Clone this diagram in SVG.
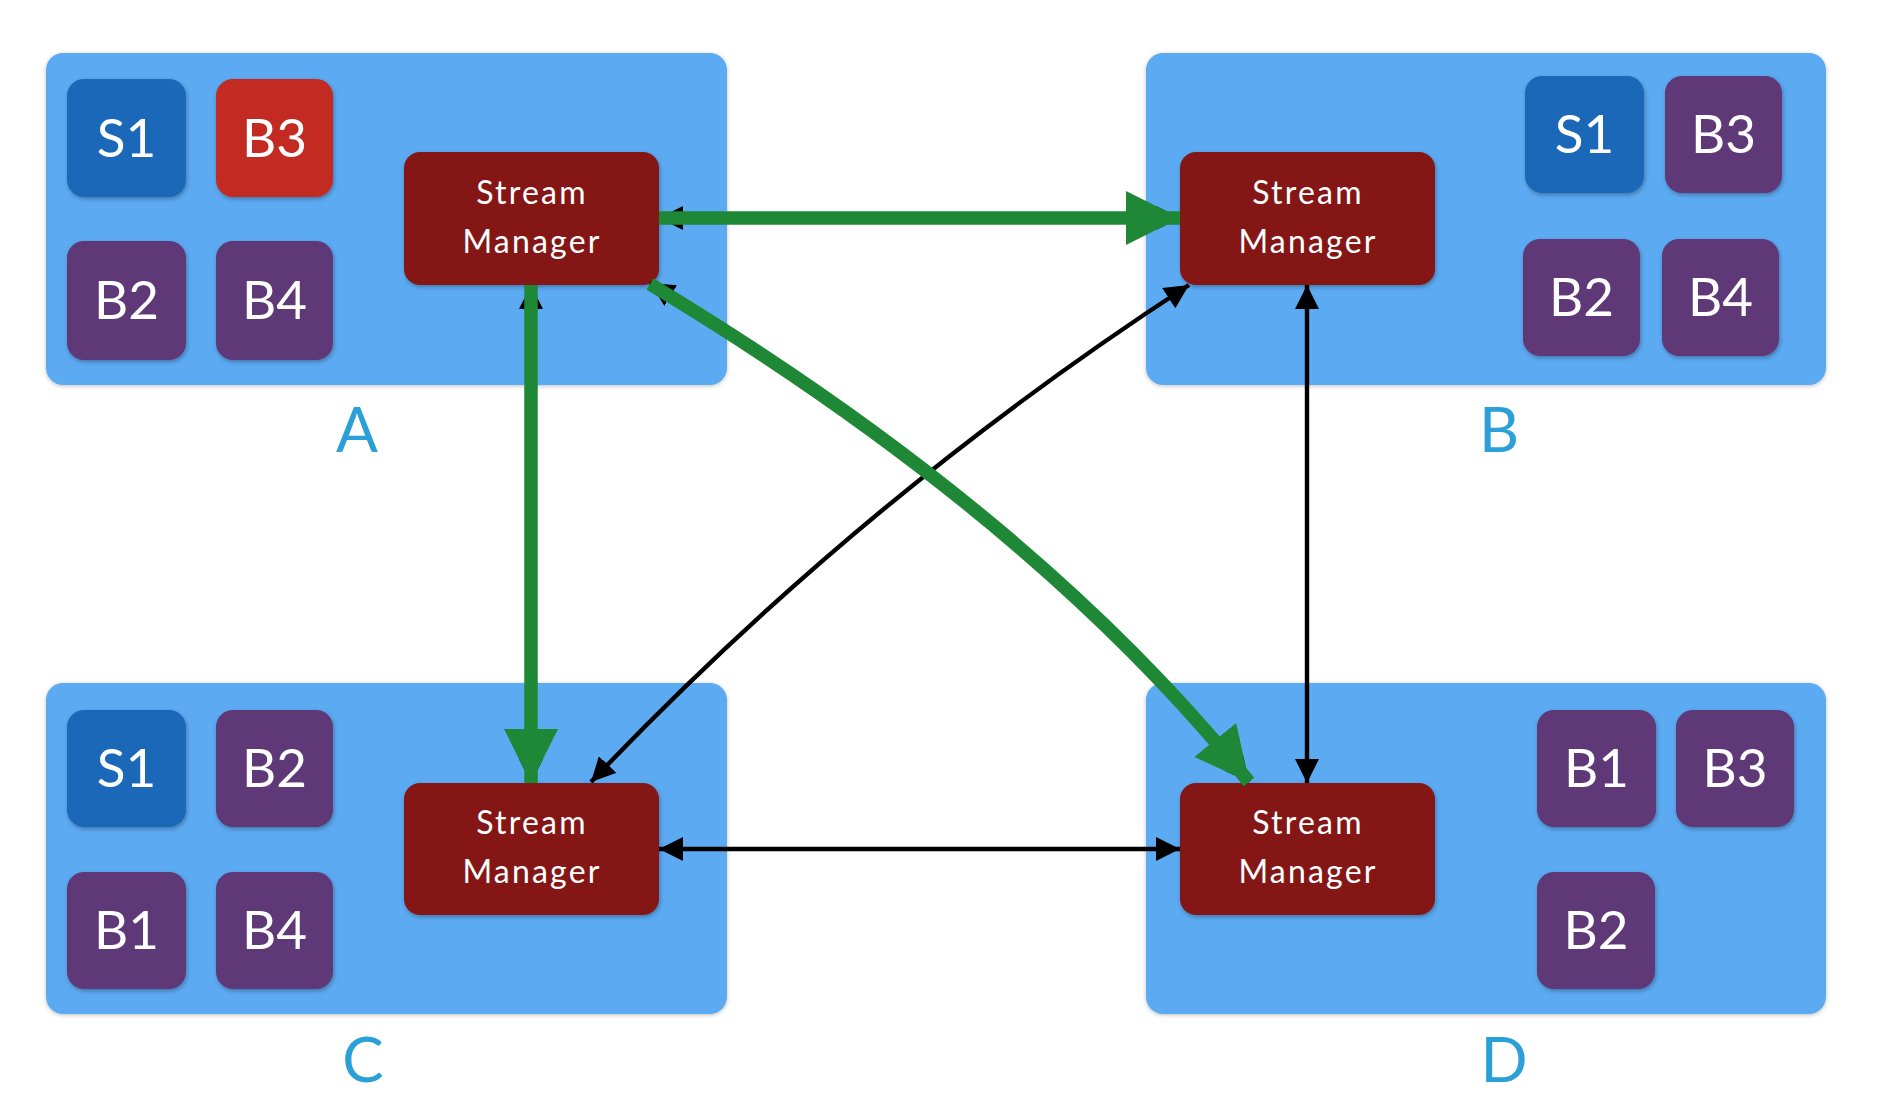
<svg xmlns="http://www.w3.org/2000/svg" width="1880" height="1098" viewBox="0 0 1880 1098">
<defs>
<filter id="sh" x="-10%" y="-10%" width="130%" height="130%"><feDropShadow dx="1" dy="2" stdDeviation="2" flood-color="#000" flood-opacity="0.3"/></filter>
<filter id="psh" x="-5%" y="-5%" width="110%" height="110%"><feDropShadow dx="0" dy="1" stdDeviation="2" flood-color="#000" flood-opacity="0.25"/></filter>
<marker id="bk" viewBox="0 0 10 10" refX="10" refY="5" markerWidth="5.5" markerHeight="5.5" orient="auto-start-reverse" markerUnits="strokeWidth"><path d="M0,0 L10,5 L0,10 z" fill="#000"/></marker>
<marker id="gr" viewBox="0 0 10 10" refX="10" refY="5" markerWidth="4" markerHeight="4" orient="auto" markerUnits="strokeWidth"><path d="M0,0 L10,5 L0,10 z" fill="#1E8837"/></marker>
</defs>
<style>
.panel{fill:#5BAAF2;filter:url(#psh)}
.sm{fill:#841614;filter:url(#sh)}
.s{fill:#1C68B8;filter:url(#sh)}
.b{fill:#5E3778;filter:url(#sh)}
.r{fill:#C22A24;filter:url(#sh)}
.smt{font-family:Lato,"Open Sans",sans-serif;font-size:32px;fill:#fff;text-anchor:middle;letter-spacing:2.2px}
.bt{font-family:Lato,"Open Sans",sans-serif;font-size:53px;fill:#fff;text-anchor:middle}
.lbl{font-family:Lato,"Open Sans",sans-serif;font-size:62px;fill:#2BA0D6;text-anchor:middle}
.blk{fill:none;stroke:#000;stroke-width:4.4;marker-start:url(#bk);marker-end:url(#bk)}
.grn{fill:none;stroke:#1E8837;stroke-width:13.5;marker-end:url(#gr)}
</style>
<rect width="1880" height="1098" fill="#fff"/>
<g id="panelA">
<rect class="panel" x="46" y="53" width="681" height="332" rx="17"/>
<text class="lbl" x="357" y="452">A</text>
</g>
<g id="panelB">
<rect class="panel" x="1146" y="53" width="680" height="332" rx="17"/>
<text class="lbl" x="1499" y="452">B</text>
</g>
<g id="panelC">
<rect class="panel" x="46" y="683" width="681" height="331" rx="17"/>
<text class="lbl" x="363" y="1082">C</text>
</g>
<g id="panelD">
<rect class="panel" x="1146" y="683" width="680" height="331" rx="17"/>
<text class="lbl" x="1504" y="1082">D</text>
</g>
<g id="A-S1"><rect class="s" x="67" y="79" width="119" height="118" rx="17"/><text class="bt" x="126.5" y="157">S1</text></g>
<g id="A-B3"><rect class="r" x="216" y="79" width="117" height="118" rx="17"/><text class="bt" x="274.5" y="157">B3</text></g>
<g id="A-B2"><rect class="b" x="67" y="241" width="119" height="119" rx="17"/><text class="bt" x="126.5" y="319">B2</text></g>
<g id="A-B4"><rect class="b" x="216" y="241" width="117" height="119" rx="17"/><text class="bt" x="274.5" y="319">B4</text></g>
<g id="B-S1"><rect class="s" x="1525" y="76" width="119" height="117" rx="17"/><text class="bt" x="1584.5" y="153">S1</text></g>
<g id="B-B3"><rect class="b" x="1665" y="76" width="117" height="117" rx="17"/><text class="bt" x="1723.5" y="153">B3</text></g>
<g id="B-B2"><rect class="b" x="1523" y="239" width="117" height="117" rx="17"/><text class="bt" x="1581.5" y="316">B2</text></g>
<g id="B-B4"><rect class="b" x="1662" y="239" width="117" height="117" rx="17"/><text class="bt" x="1720.5" y="316">B4</text></g>
<g id="C-S1"><rect class="s" x="67" y="710" width="119" height="117" rx="17"/><text class="bt" x="126.5" y="787">S1</text></g>
<g id="C-B2"><rect class="b" x="216" y="710" width="117" height="117" rx="17"/><text class="bt" x="274.5" y="787">B2</text></g>
<g id="C-B1"><rect class="b" x="67" y="872" width="119" height="117" rx="17"/><text class="bt" x="126.5" y="949">B1</text></g>
<g id="C-B4"><rect class="b" x="216" y="872" width="117" height="117" rx="17"/><text class="bt" x="274.5" y="949">B4</text></g>
<g id="D-B1"><rect class="b" x="1537" y="710" width="119" height="117" rx="17"/><text class="bt" x="1596.5" y="787">B1</text></g>
<g id="D-B3"><rect class="b" x="1676" y="710" width="118" height="117" rx="17"/><text class="bt" x="1735" y="787">B3</text></g>
<g id="D-B2"><rect class="b" x="1537" y="872" width="118" height="117" rx="17"/><text class="bt" x="1596" y="949">B2</text></g>
<g id="SM-A"><rect class="sm" x="404" y="152" width="255" height="133" rx="16"/><text class="smt" x="532" y="204">Stream</text><text class="smt" x="532" y="253">Manager</text></g>
<g id="SM-B"><rect class="sm" x="1180" y="152" width="255" height="133" rx="16"/><text class="smt" x="1308" y="204">Stream</text><text class="smt" x="1308" y="253">Manager</text></g>
<g id="SM-C"><rect class="sm" x="404" y="783" width="255" height="132" rx="16"/><text class="smt" x="532" y="834">Stream</text><text class="smt" x="532" y="883">Manager</text></g>
<g id="SM-D"><rect class="sm" x="1180" y="783" width="255" height="132" rx="16"/><text class="smt" x="1308" y="834">Stream</text><text class="smt" x="1308" y="883">Manager</text></g>
<g id="connectors">
<path class="blk" d="M659,218 L1180,218"/>
<path class="blk" d="M531,285 L531,783"/>
<path class="blk" d="M650,283 Q1035,516 1249,782"/>
<path class="blk" d="M1189,285 Q860,499 591,782"/>
<path class="blk" d="M1307,285 L1307,783"/>
<path class="blk" d="M659,849 L1180,849"/>
<path class="grn" d="M659,218 L1180,218"/>
<path class="grn" d="M531,285 L531,783"/>
<path class="grn" d="M650,284 Q1035,516 1249,782"/>
</g>
</svg>
